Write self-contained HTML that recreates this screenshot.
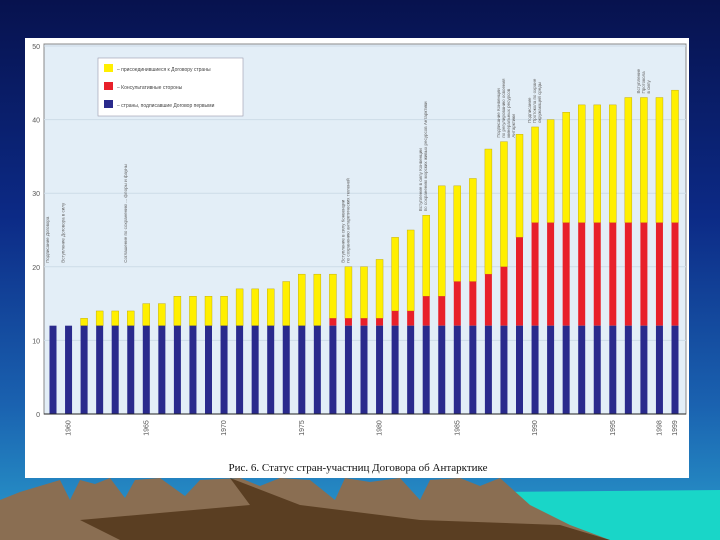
<!DOCTYPE html>
<html><head><meta charset="utf-8">
<style>
html,body{margin:0;padding:0;width:720px;height:540px;overflow:hidden}
body{background:linear-gradient(180deg,#07124e 0%,#0c2a86 40%,#1a62b0 75%,#2a9ccc 100%);position:relative;font-family:"Liberation Sans",sans-serif}
#panel{position:absolute;left:25px;top:38px;width:664px;height:440px;background:#fff}
svg{position:absolute;left:0;top:0}
</style></head><body>
<svg width="720" height="540">
  <polygon points="500,492 720,490 720,540 560,540" fill="#19d6c8"/>
  <polygon points="0,500 20,492 40,486 60,480 70,500 80,480 95,484 110,478 125,498 135,480 160,478 185,496 200,480 240,478 260,486 280,478 310,480 335,500 345,478 370,482 400,478 420,500 430,480 460,478 480,486 500,478 530,505 570,525 610,540 0,540" fill="#8a6e52"/>
  <polygon points="230,478 300,505 420,520 560,525 610,540 120,540 80,520 250,505" fill="#5a3e22"/>
</svg>
<div id="panel"></div>
<svg id="chart" width="720" height="540"></svg>
<script>
const years=[1959,1960,1961,1962,1963,1964,1965,1966,1967,1968,1969,1970,1971,1972,1973,1974,1975,1976,1977,1978,1979,1980,1981,1982,1983,1984,1985,1986,1987,1988,1989,1990,1991,1992,1993,1994,1995,1996,1997,1998,1999];
const signatories=[12,12,12,12,12,12,12,12,12,12,12,12,12,12,12,12,12,12,12,12,12,12,12,12,12,12,12,12,12,12,12,12,12,12,12,12,12,12,12,12,12];
const consultative=[12,12,12,12,12,12,12,12,12,12,12,12,12,12,12,12,12,12,13,13,13,13,14,14,16,16,18,18,19,20,24,26,26,26,26,26,26,26,26,26,26];
const totals=[12,12,13,14,14,14,15,15,16,16,16,16,17,17,17,18,19,19,19,20,20,21,24,25,27,31,31,32,36,37,38,39,40,41,42,42,42,43,43,43,44];
const yTicks=[0,10,20,30,40,50];
const xLabels=[1960,1965,1970,1975,1980,1985,1990,1995,1998,1999];
const legendLabels=["– присоединившиеся к Договору страны","– Консультативные стороны","– страны, подписавшие Договор первыми"];
const notes=[[1959,["Подписание Договора"]],[1960,["Вступление Договора в силу"]],[1964,["Соглашение по сохранению ... флоры и фауны"]],[1978,["Вступление в силу Конвенции","по сохранению антарктических тюленей"]],[1983,["Вступление в силу Конвенции","по сохранению морских живых ресурсов Антарктики"]],[1988,["Подписание Конвенции","по регулированию освоения","минеральных ресурсов","Антарктики"]],[1990,["Подписание","Протокола по охране","окружающей среды"]],[1997,["Вступление","Протокола","в силу"]]];
const NS="http://www.w3.org/2000/svg";
const svg=document.getElementById('chart');
const X0=44,X1=686,Y0=414,PX=7.36;
function y(v){return Y0-v*PX;}
function x(yr){return 53+(yr-1959)*15.55;}
function mk(t,a){const e=document.createElementNS(NS,t);for(const k in a)e.setAttribute(k,a[k]);svg.appendChild(e);return e;}
let bg=mk('rect',{x:X0,y:44,width:X1-X0,height:Y0-44,fill:'#e3eef7',stroke:'#888','stroke-width':1});


yTicks.forEach(v=>{
  let g=mk('line',{x1:X0,x2:X1,y1:y(v),y2:y(v),stroke:'#cddbe7','stroke-width':1});
  
  
  let t=mk('text',{x:40,y:y(v)+3,'font-size':7,'text-anchor':'end',fill:'#555'});
  t.textContent=v;
  
  
});
years.forEach((yr,i)=>{
  const cx=x(yr),w=7;
  let r1=mk('rect',{x:cx-w/2,y:y(totals[i]),width:w,height:y(consultative[i])-y(totals[i]),fill:'#ffef00',stroke:'#b8a000','stroke-width':0.4});
  
  
  let r2=mk('rect',{x:cx-w/2,y:y(consultative[i]),width:w,height:y(signatories[i])-y(consultative[i]),fill:'#e8202a'});
  
  
  let r3=mk('rect',{x:cx-w/2,y:y(signatories[i]),width:w,height:Y0-y(signatories[i]),fill:'#2a2a8c'});
  
  
});
let ax=mk('line',{x1:X0,x2:X1,y1:Y0,y2:Y0,stroke:'#222','stroke-width':1});


xLabels.forEach(yr=>{
  let t=mk('text',{x:0,y:0,'font-size':7,fill:'#555','text-anchor':'middle',transform:`translate(${x(yr)+2},428) rotate(-90)`});
  t.textContent=yr;
  
  
});
notes.forEach(n=>{
  const i=years.indexOf(n[0]);
  const base=y(Math.max(totals[i],20))-4;
  n[1].forEach((line,k)=>{
    let t=mk('text',{x:0,y:0,'font-size':4.5,fill:'#666',transform:`translate(${x(n[0])-4+k*5},${base}) rotate(-90)`});
    t.textContent=line;
    
    
  });
});
let lg=mk('rect',{x:98,y:58,width:145,height:58,fill:'#fff',stroke:'#99a','stroke-width':0.6});


const lc=['#ffef00','#e8202a','#2a2a8c'];
legendLabels.forEach((l,i)=>{
  let s=mk('rect',{x:104,y:64+i*18,width:9,height:8,fill:lc[i]});
  
  
  let t=mk('text',{x:117,y:71+i*18,'font-size':5,fill:'#444'});
  t.textContent=l;
  
  
});
let cap=mk('text',{x:358,y:471,'font-size':11,'text-anchor':'middle',fill:'#111','font-family':'"Liberation Serif",serif'});
cap.textContent='Рис. 6. Статус стран-участниц Договора об Антарктике';


</script>
</body></html>
